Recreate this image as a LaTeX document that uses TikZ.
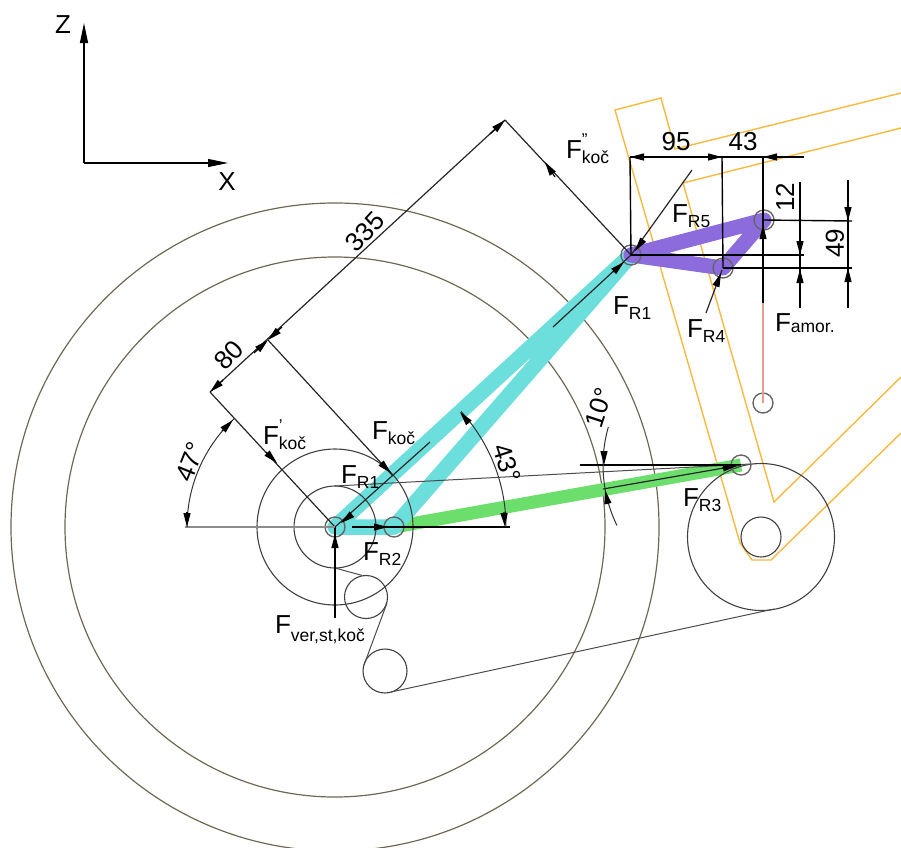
\documentclass[tikz,border=0pt]{standalone}
\usepackage{fontspec}
\setmainfont{Liberation Sans}
\usetikzlibrary{arrows.meta}
\definecolor{frameor}{HTML}{F7B93E}
\definecolor{circbr}{HTML}{6E6852}
\definecolor{cylink}{HTML}{6CDEDC}
\definecolor{grlink}{HTML}{6CDE6C}
\definecolor{pulink}{HTML}{8C6CDC}
\definecolor{dampr}{HTML}{E0A090}
\definecolor{pingr}{HTML}{666666}
\tikzset{
  bigcirc/.style={draw=circbr,line width=1.2pt,circle,minimum size=#1,inner sep=0pt},
  wheel/.style={draw=black!75,line width=1.1pt,circle,minimum size=#1,inner sep=0pt},
  jointc/.style={draw=pingr,line width=1.4pt,circle,minimum size=20pt,inner sep=0pt},
  frameline/.style={draw=frameor,line width=1.4pt,line join=miter},
  belt/.style={draw=black!70,line width=1pt},
  linkc/.style={draw=cylink,line width=15.5pt,line cap=round,line join=round},
  linkg/.style={draw=grlink,line width=13pt},
  linkp/.style={draw=pulink,line width=15pt,line cap=round,line join=round},
  dimline/.style={draw=black,line width=1.4pt},
  slantline/.style={draw=black!85,line width=1.2pt},
  thinarc/.style={draw=black!80,line width=1pt},
  tipped/.style={draw=black,line width=1.2pt,-{Triangle[length=14pt,width=7pt]}},
  flabel/.style={anchor=base west,inner sep=0pt,outer sep=0pt,font=\fontsize{26}{26}\selectfont},
  numlabel/.style={inner sep=0pt,font=\fontsize{26}{26}\selectfont}
}
\newcommand{\FSub}[2]{F\raisebox{-#1pt}{\fontsize{17.5}{17.5}\selectfont #2}}
\newcommand{\FPrimeSub}[3]{F\rlap{\raisebox{13pt}{\fontsize{17}{17}\selectfont #2}}\raisebox{-#1pt}{\fontsize{17.5}{17.5}\selectfont #3}}
\newcommand{\ArcPlot}[6][thinarc]{\draw[#1,domain=#5:#6,samples=50,variable=\t] plot ({#2+#4*cos(\t)},{#3-#4*sin(\t)});}
\begin{document}
\begin{tikzpicture}[x=1pt,y=-1pt]
\useasboundingbox (0,0) rectangle (901,847);
\coordinate (pO) at (335,527);
\coordinate (pA) at (631,255);
\coordinate (pB) at (394,527);
\coordinate (pC) at (741,465);
\coordinate (pD) at (764,220);
\coordinate (pE) at (723,268);
\coordinate (pF) at (763,403);
\coordinate (dT) at (505,120);
\coordinate (dM) at (268,340);
\coordinate (dL) at (210,392);
% big circles
\begin{scope}
\clip (0,0) rectangle (901,847);
\node[bigcirc=648pt] (rimout) at (pO) {};
\node[bigcirc=540pt] (rimin) at (pO) {};
\end{scope}
% frame
\coordinate (f1) at (615,110); \coordinate (f2) at (661,98); \coordinate (f3) at (675,149);
\coordinate (f4) at (901,93); \coordinate (f5) at (683,183); \coordinate (f6) at (901,128);
\coordinate (f7) at (774,502); \coordinate (f8) at (901,377);
\coordinate (f9) at (740,543); \coordinate (f10) at (752,560); \coordinate (f11) at (771,560);
\coordinate (f12) at (901,433);
\draw[frameline] (f4) -- (f3) -- (f2) -- (f1) -- (f9) -- (f10) -- (f11) -- (f12);
\draw[frameline] (f6) -- (f5) -- (f7) -- (f8);
% links
\draw[linkg] (pB) -- (pC);
\draw[linkc] (pO) -- (pA) -- (pB) -- cycle;
\draw[linkp] (pA) -- (pD) -- (pE) -- cycle;
% wheels and belts
\node[wheel=82pt] (hub) at (pO) {};
\node[wheel=156pt] (sprock) at (pO) {};
\node[wheel=147pt] (rearw) at (761,537) {};
\node[wheel=40pt] (rearh) at (761,537) {};
\node[wheel=43pt] (idlera) at (366,597) {};
\node[wheel=44pt] (idlerb) at (385,671) {};
\coordinate (b1) at (335,568); \coordinate (b2) at (362,575.4);
\coordinate (b3) at (387,603); \coordinate (b4) at (364,665);
\coordinate (b5) at (391,692); \coordinate (b6) at (774,609);
\coordinate (b7) at (335,486); \coordinate (b8) at (750,464);
\draw[belt] (b1) -- (b2);
\draw[belt] (b3) -- (b4);
\draw[belt] (b5) -- (b6);
\draw[belt] (b7) -- (b8);
% joints
\node[jointc] (jO) at (pO) {};
\node[jointc] (jA) at (pA) {};
\node[jointc] (jB) at (pB) {};
\node[jointc] (jC) at (pC) {};
\node[jointc] (jD) at (pD) {};
\node[jointc] (jE) at (pE) {};
\node[jointc] (jF) at (pF) {};
% axes
\coordinate (ax0) at (84,163);
\draw[tipped,-{Triangle[length=20pt,width=8pt]}] (ax0) -- (84,23);
\draw[tipped,-{Triangle[length=20pt,width=8pt]}] (ax0) -- (228,163);
\node[numlabel] (lz) at (63,25) {Z};
\node[numlabel] (lx) at (227,182) {X};
% slanted dimension lines
\draw[slantline] (dT) -- (dL);
\draw[slantline] (dT) -- (pA);
\draw[slantline] (dL) -- (pO);
\draw[slantline] (dM) -- (393,476);
\draw[tipped] (490,134) -- (dT);
\draw[tipped] (555,177) -- (545,162);
\draw[tipped] (254,353) -- (dM);
\draw[tipped] (282,327) -- (dM);
\draw[tipped] (223,380) -- (dL);
\draw[tipped] (266,452) -- (277,463);
\draw[tipped] (381,463) -- (391,473);
% forces along links
\coordinate (rA) at (430,442);
\draw[slantline] (rA) -- (pO);
\draw[tipped] (351,515) -- (341,523);
\coordinate (rB) at (553,327);
\draw[slantline] (rB) -- (pA);
\draw[tipped] (613,272) -- (624,262);
\coordinate (r5) at (692,170);
\draw[slantline] (r5) -- (pA);
\draw[tipped] (643,240) -- (635,251);
\coordinate (r4) at (706,313);
\draw[slantline] (r4) -- (722,270);
\draw[tipped] (716,286) -- (721,273);
\coordinate (rv) at (335,618);
\draw[dimline] (rv) -- (pO);
\draw[tipped] (335,548) -- (335,534);
% horizontal base lines
\draw[slantline,draw=black!45,line width=1.6pt] (185,527) -- (pO);
\coordinate (h43) at (510,527);
\draw[dimline] (352,527) -- (h43);
\draw[tipped] (373,527) -- (388,527);
\coordinate (h10) at (580,465);
\draw[dimline] (h10) -- (pC);
\coordinate (g10) at (603,489);
\draw[slantline] (g10) -- (pC);
\draw[tipped] (722,468) -- (737,466);
% angle arcs
\ArcPlot{335}{527}{148}{180}{133}
\draw[tipped] (187,512) -- (187,527);
\draw[tipped] (222,431) -- (233,420);
\ArcPlot{335}{527}{171}{0}{42.5}
\draw[tipped] (504,512) -- (505,527);
\draw[tipped] (469,423) -- (460,412);
\ArcPlot{741}{465}{138}{164}{206}
\draw[tipped] (604,451) -- (604,465);
\draw[tipped] (608,504) -- (605,490);
% right dimension lines
\coordinate (t1) at (630,157); \coordinate (t2) at (722,157);
\coordinate (t3) at (763,157); \coordinate (t4) at (804,157);
\draw[dimline] (t1) -- (t4);
\draw[dimline] (t1) -- (pA);
\draw[dimline] (t2) -- (pE);
\coordinate (amor) at (763,303);
\draw[dimline] (t3) -- (amor);
\draw[draw=dampr,line width=1.2pt] (amor) -- (pF);
\coordinate (r1) at (804,255); \coordinate (r2) at (852,221); \coordinate (r3) at (852,268);
\draw[dimline] (pA) -- (r1);
\draw[dimline] (pD) -- (r2);
\draw[dimline] (pE) -- (r3);
\coordinate (v1) at (800,182); \coordinate (v2) at (800,308);
\coordinate (v3) at (848,180); \coordinate (v4) at (848,308);
\draw[dimline] (v1) -- (v2);
\draw[dimline] (v3) -- (v4);
\draw[tipped] (648,157) -- (t1);
\draw[tipped] (704,157) -- (t2);
\draw[tipped] (782,157) -- (t3);
\draw[tipped] (800,238) -- (800,255);
\draw[tipped] (800,287) -- (800,269);
\draw[tipped] (848,203) -- (848,221);
\draw[tipped] (848,286) -- (848,268);
\draw[tipped] (763,240) -- (763,225);
% numbers
\node[numlabel,rotate=47] (n335) at (365,232) {335};
\node[numlabel,rotate=47] (n80) at (229,355) {80};
\node[numlabel,rotate=68] (n47) at (190,462) {47°};
\node[numlabel,rotate=-72] (n43) at (507,463) {43°};
\node[numlabel,rotate=72] (n10) at (599,408) {10°};
\node[numlabel] (n95) at (676,142) {95};
\node[numlabel] (n43b) at (743,142) {43};
\node[numlabel,rotate=90] (n12) at (785,197) {12};
\node[numlabel,rotate=90] (n49) at (835,243) {49};
% force labels
\node[flabel] (l1) at (263,444) {\FPrimeSub{5}{'}{koč}};
\node[flabel] (l2) at (372,439) {\FSub{5}{koč}};
\node[flabel] (l3) at (341,483) {\FSub{5}{R1}};
\node[flabel] (l4) at (363,560) {\FSub{5}{R2}};
\node[flabel] (l5) at (275,633) {\FSub{8}{ver,st,koč}};
\node[flabel] (l6) at (683,506) {\FSub{5}{R3}};
\node[flabel] (l7) at (672,222) {\FSub{5}{R5}};
\node[flabel] (l8) at (613,314) {\FSub{5}{R1}};
\node[flabel] (l9) at (687,337) {\FSub{5}{R4}};
\node[flabel] (l10) at (775,331) {\FSub{1}{amor.}};
\node[flabel] (l11) at (566,158) {\FPrimeSub{5}{"}{koč}};
\end{tikzpicture}
\end{document}
